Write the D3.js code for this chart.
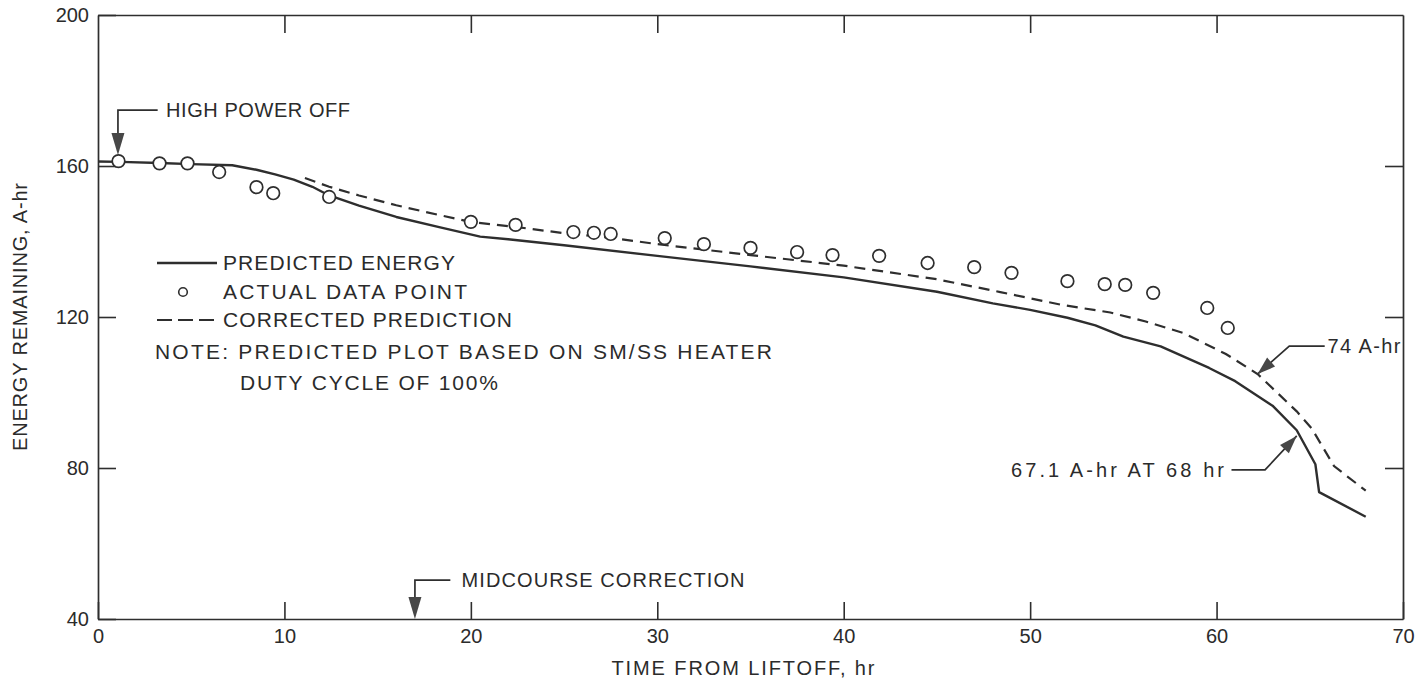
<!DOCTYPE html>
<html>
<head>
<meta charset="utf-8">
<script src="https://cdn.jsdelivr.net/npm/d3@7"></script>
<style>
  html, body { margin: 0; padding: 0; background: #fff; }
  svg { display: block; }
  text { font-family: "Liberation Sans", Arial, sans-serif; fill: #2b2b2b; }
</style>
</head>
<body>
<svg id="chart" width="1419" height="683"></svg>
<script>
// Axis ticks
const xTicks = [0, 10, 20, 30, 40, 50, 60, 70];
const yTicks = [40, 80, 120, 160, 200];

// Predicted energy (solid curve), hours from liftoff and A-hr
const predictedHours  = [0, 1.2, 3.3, 5, 7.2, 8.5, 9.5, 10.5, 11.5, 12.4, 14, 16, 18.3, 20.5, 22, 25, 30, 35, 40, 45, 48, 50, 52, 53.5, 55, 57, 59.6, 61, 63, 64.3, 65.3, 65.5, 68];
const predictedEnergy = [161.2, 161.1, 160.8, 160.5, 160.2, 159, 157.8, 156.4, 154.5, 152.2, 149.5, 146.5, 143.8, 141.3, 140.6, 139, 136.2, 133.4, 130.5, 126.7, 123.6, 121.9, 119.8, 117.8, 114.8, 112.2, 106.5, 103, 96.5, 90, 81, 73.6, 67.1];

// Corrected prediction (dashed curve)
const correctedHours  = [11.1, 12.4, 14, 16, 18.3, 20, 22.5, 25, 27.5, 30, 35, 40, 45, 48.4, 51.7, 54.3, 56.2, 58.2, 60.5, 62.2, 64.3, 65.1, 66.3, 68];
const correctedEnergy = [156.8, 154.5, 152.2, 149.6, 147, 145.2, 143.8, 142.2, 141, 139.3, 136.4, 133.6, 130, 126.6, 123.2, 121.2, 118.8, 115.8, 110.2, 104.9, 95, 90.5, 80.5, 74];

// Actual telemetry data points
const actualHours  = [1.1, 3.3, 4.8, 6.5, 8.5, 9.4, 12.4, 20, 22.4, 25.5, 26.6, 27.5, 30.4, 32.5, 35, 37.5, 39.4, 41.9, 44.5, 47, 49, 52, 54, 55.1, 56.6, 59.5, 60.6];
const actualEnergy = [161.3, 160.7, 160.7, 158.4, 154.4, 152.8, 151.8, 145.2, 144.4, 142.5, 142.3, 142, 140.9, 139.3, 138.3, 137.2, 136.4, 136.2, 134.3, 133.2, 131.7, 129.5, 128.7, 128.5, 126.4, 122.4, 117.1];

// Legend and note text
const legendLabels = ["PREDICTED ENERGY", "ACTUAL DATA POINT", "CORRECTED PREDICTION"];
const noteLines = ["NOTE: PREDICTED PLOT BASED ON SM/SS HEATER", "DUTY CYCLE OF 100%"];

// Event markers (hour of event)
const eventLabels = ["HIGH POWER OFF", "MIDCOURSE CORRECTION"];
const eventHours = [1.07, 17.0];

// End-of-curve callouts
const endLabels = ["74 A-hr", "67.1 A-hr AT 68 hr"];
const endHour = 68;
const endValues = [74, 67.1];

const ink = "#2e2e2e";
const svg = d3.select("#chart");

const x = d3.scaleLinear().domain([0, 70]).range([98, 1403]);
const y = d3.scaleLinear().domain([40, 200]).range([619, 15]);

// ---- axes / frame ----
function styleAxis(g) {
  g.attr("font-family", null).attr("font-size", null);
  g.selectAll("path.domain").attr("stroke", ink).attr("stroke-width", 1.7);
  g.selectAll(".tick line").attr("stroke", ink).attr("stroke-width", 1.6);
  g.selectAll(".tick text").attr("fill", ink).style("font-size", "20px");
}

svg.append("g")
  .attr("transform", `translate(0,${y(40)})`)
  .call(d3.axisBottom(x).tickValues(xTicks).tickSizeInner(-17).tickSizeOuter(0).tickPadding(10))
  .call(styleAxis);

svg.append("g")
  .attr("transform", `translate(0,${y(200)})`)
  .call(d3.axisTop(x).tickValues(xTicks.slice(1, -1)).tickSizeInner(-18).tickSizeOuter(0).tickFormat(""))
  .call(styleAxis);

svg.append("g")
  .attr("transform", `translate(${x(0)},0)`)
  .call(d3.axisLeft(y).tickValues(yTicks).tickSizeInner(-18).tickSizeOuter(0).tickPadding(9))
  .call(styleAxis);

svg.append("g")
  .attr("transform", `translate(${x(70)},0)`)
  .call(d3.axisRight(y).tickValues(yTicks.slice(1, -1)).tickSizeInner(-18).tickSizeOuter(0).tickFormat(""))
  .call(styleAxis);

// axis titles
svg.append("text")
  .attr("x", 743).attr("y", 668).attr("dy", "0.35em")
  .attr("text-anchor", "middle")
  .attr("textLength", 263).attr("lengthAdjust", "spacing")
  .style("font-size", "20px")
  .text("TIME FROM LIFTOFF, hr");

svg.append("text")
  .attr("transform", `translate(20,${(y(40) + y(200)) / 2}) rotate(-90)`)
  .attr("dy", "0.35em")
  .attr("text-anchor", "middle")
  .attr("textLength", 268).attr("lengthAdjust", "spacing")
  .style("font-size", "20px")
  .text("ENERGY REMAINING, A-hr");

// ---- curves ----
const line = d3.line().x(d => x(d[0])).y(d => y(d[1])).curve(d3.curveLinear);

svg.append("path")
  .datum(d3.zip(predictedHours, predictedEnergy))
  .attr("d", line)
  .attr("fill", "none").attr("stroke", ink).attr("stroke-width", 2.4)
  .attr("stroke-linejoin", "round");

svg.append("path")
  .datum(d3.zip(correctedHours, correctedEnergy))
  .attr("d", line)
  .attr("fill", "none").attr("stroke", ink).attr("stroke-width", 2.2)
  .attr("stroke-dasharray", "11,7");

svg.append("g").selectAll("circle")
  .data(d3.zip(actualHours, actualEnergy))
  .join("circle")
  .attr("cx", d => x(d[0])).attr("cy", d => y(d[1])).attr("r", 6.3)
  .attr("fill", "#fff").attr("stroke", ink).attr("stroke-width", 1.7);

// ---- legend ----
const legendX = 157, legendText = 223;
const legendY = [263, 292, 320];
const legendWidths = [232, 244, 289];
const lg = svg.append("g");
lg.append("line").attr("x1", legendX).attr("x2", legendX + 60).attr("y1", legendY[0]).attr("y2", legendY[0])
  .attr("stroke", ink).attr("stroke-width", 2.4);
lg.append("circle").attr("cx", 183).attr("cy", legendY[1]).attr("r", 4.3)
  .attr("fill", "#fff").attr("stroke", ink).attr("stroke-width", 1.6);
lg.append("line").attr("x1", legendX).attr("x2", legendX + 57).attr("y1", legendY[2]).attr("y2", legendY[2])
  .attr("stroke", ink).attr("stroke-width", 2.2).attr("stroke-dasharray", "15,6");
legendLabels.forEach((t, i) => {
  lg.append("text").attr("x", legendText).attr("y", legendY[i]).attr("dy", "0.35em")
    .attr("textLength", legendWidths[i]).attr("lengthAdjust", "spacing")
    .style("font-size", "21px").text(t);
});
lg.append("text").attr("x", 155).attr("y", 352).attr("dy", "0.35em")
  .attr("textLength", 617).attr("lengthAdjust", "spacing")
  .style("font-size", "21px").text(noteLines[0]);
lg.append("text").attr("x", 240).attr("y", 383).attr("dy", "0.35em")
  .attr("textLength", 258).attr("lengthAdjust", "spacing")
  .style("font-size", "21px").text(noteLines[1]);

// ---- callouts ----
function arrowHead(tx, ty, fx, fy, len, half) {
  const a = Math.atan2(ty - fy, tx - fx);
  const bx = tx - len * Math.cos(a), by = ty - len * Math.sin(a);
  const px = -Math.sin(a) * half, py = Math.cos(a) * half;
  return `M${tx},${ty}L${bx + px},${by + py}L${bx - px},${by - py}Z`;
}
const ann = svg.append("g");

// High power off
{
  const tx = x(eventHours[0]), ty = y(162.9), topY = y(174.8);
  ann.append("path").attr("d", `M${x(3.2)},${topY}H${tx}V${ty - 10}`)
    .attr("fill", "none").attr("stroke", ink).attr("stroke-width", 1.7);
  ann.append("path").attr("d", arrowHead(tx, ty, tx, topY, 22, 6.5)).attr("fill", "#474747");
  ann.append("text").attr("x", x(3.65)).attr("y", topY).attr("dy", "0.35em")
    .attr("textLength", 184).attr("lengthAdjust", "spacing")
    .style("font-size", "20px").text(eventLabels[0]);
}

// Midcourse correction
{
  const tx = x(eventHours[1]), ty = y(40), topY = y(50.3);
  ann.append("path").attr("d", `M${x(18.9)},${topY}H${tx}V${ty - 10}`)
    .attr("fill", "none").attr("stroke", ink).attr("stroke-width", 1.7);
  ann.append("path").attr("d", arrowHead(tx, ty, tx, topY, 22, 6.5)).attr("fill", "#474747");
  ann.append("text").attr("x", x(19.5)).attr("y", topY).attr("dy", "0.35em")
    .attr("textLength", 283).attr("lengthAdjust", "spacing")
    .style("font-size", "20px").text(eventLabels[1]);
}

// Corrected prediction end value
{
  const tx = x(62.2), ty = y(104.9), ex = x(63.9), ey = y(112.3);
  ann.append("path").attr("d", `M${x(65.8)},${ey}H${ex}L${tx},${ty}`)
    .attr("fill", "none").attr("stroke", ink).attr("stroke-width", 1.7);
  ann.append("path").attr("d", arrowHead(tx, ty, ex, ey, 18, 6)).attr("fill", "#474747");
  ann.append("text").attr("x", x(65.95)).attr("y", ey).attr("dy", "0.35em")
    .attr("textLength", 73).attr("lengthAdjust", "spacing")
    .style("font-size", "20px").text(endLabels[0]);
}

// Predicted end value
{
  const tx = x(64.3), ty = y(88.5), ex = x(62.6), ey = y(79.5);
  ann.append("path").attr("d", `M${x(60.8)},${ey}H${ex}L${tx},${ty}`)
    .attr("fill", "none").attr("stroke", ink).attr("stroke-width", 1.7);
  ann.append("path").attr("d", arrowHead(tx, ty, ex, ey, 18, 6)).attr("fill", "#474747");
  ann.append("text").attr("x", x(60.4)).attr("y", ey).attr("dy", "0.35em")
    .attr("text-anchor", "end")
    .attr("textLength", 213).attr("lengthAdjust", "spacing")
    .style("font-size", "20px").text(endLabels[1]);
}
</script>
</body>
</html>
